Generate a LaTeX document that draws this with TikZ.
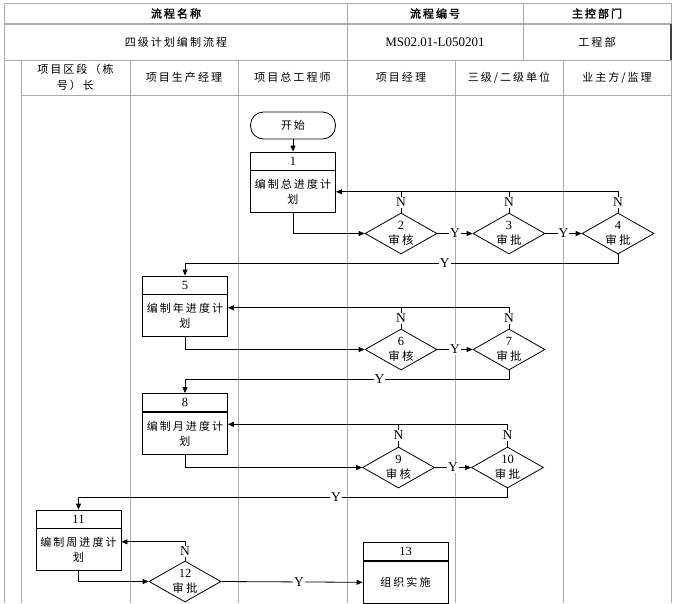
\documentclass[tikz,border=0pt]{standalone}
\usepackage{fontspec}
\setmainfont{Liberation Serif}
\newfontfamily\cjk[Scale=0.92, LetterSpace=18, AutoFakeBold=2]{Noto Sans CJK SC}
\usetikzlibrary{arrows.meta,shapes.geometric}

\begin{document}
\begin{tikzpicture}[x=1pt, y=-1pt, >={Triangle[length=6pt, width=5pt]},
	every node/.style={font=\fontsize{12.5}{15}\selectfont},
	zh/.style={font=\fontsize{12}{15}\selectfont\cjk},
	grid/.style={draw=black!33, line width=0.8pt},
	link/.style={line width=0.8pt},
	flow/.style={link, ->},
	numbox/.style={draw, line width=0.8pt, minimum width=85pt, minimum height=18pt, inner sep=0pt},
	bodybox/.style={zh, draw, line width=0.8pt, minimum width=85pt, minimum height=42pt, inner sep=0pt, align=center, anchor=north},
	startbox/.style={zh, draw, line width=0.8pt, rounded corners=13pt, minimum width=85pt, minimum height=27pt},
	check/.style={diamond, aspect=1.8, draw, line width=0.8pt, minimum width=72pt, minimum height=41pt, inner sep=0pt, align=center},
	lbl/.style={fill=white, inner sep=1pt, font=\fontsize{13.5}{15}\selectfont}]
	\useasboundingbox (0,0) rectangle (675,603);
	\draw[grid] (4,603) -- (4,3) -- (671,3) -- (671,603);
	\draw[grid, line width=1.8pt] (4,24) -- (671,24);
	\draw[grid] (4,60) -- (671,60) (21,95) -- (671,95) (347,3) -- (347,60) (523,3) -- (523,60);
	\foreach \x in {21,130,238,347,455,563} \draw[grid] (\x,60) -- (\x,603);
	\draw[black!75, line width=1.2pt] (671,24) -- (671,60);
	\foreach \x/\t [count=\i] in {176/流程名称, 435/流程编号, 597/主控部门} \node[zh] (head\i) at (\x,13.5) {\bfseries \t};
	\node[zh] (title) at (176,42) {四级计划编制流程};
	\node[font=\fontsize{13}{15}\selectfont] (code) at (435,42) {MS02.01-L050201};
	\node[zh] (dept) at (597,42) {工程部};
	\foreach \x/\t [count=\i] in {75.5/{项目区段（栋\\[1pt]号）长}, 184/项目生产经理, 292.5/项目总工程师, 401/项目经理, 509/{三级/二级单位}, 617/{业主方/监理}} \node[zh, align=center] (lane\i) at (\x,77.5) {\t};

	\node[startbox] (start) at (293,125.5) {开始};
	\foreach \n/\x/\y/\t in {1/293/161/{编制总进度计\\划}, 5/185/285/{编制年进度计\\划}, 8/185/402.5/{编制月进度计\\划}, 11/78.5/519/{编制周进度计\\划}, 13/405.5/551.5/组织实施} {\node[numbox] (n\n) at (\x,\y) {\n}; \node[bodybox] (b\n) at (n\n.south) {\t};}
	\foreach \n/\x/\y/\t in {2/401/233.5/审核, 3/509/233.5/审批, 4/618/233.5/审批, 6/401/349.5/审核, 7/509/349.5/审批, 9/398.5/467.5/审核, 10/507.5/467.5/审批, 12/185/581.5/审批} \node[check] (d\n) at (\x,\y) {\n\\\cjk \t};
	\coordinate (fb1) at (b1.east);
	\coordinate (fb5) at ([yshift=8pt]b5.east);
	\coordinate (fb8) at ([yshift=9pt]b8.east);
	\coordinate (fb11) at ([yshift=8pt]b11.east);

	\draw[flow] (start) -- (n1);
	\draw[flow] (b1.south) |- (d2.west);
	\draw[flow] (d2.east) -- node[lbl]{Y} (d3.west);
	\draw[flow] (d3.east) -- node[lbl]{Y} (d4.west);
	\draw[flow] (d4.north) |- node[lbl, pos=0.25]{N} (fb1);
	\foreach \d in {d2,d3} \draw[link] (\d.north) -- node[lbl]{N} (\d.north |- fb1);
	\draw[flow] (d4.south) -- ++(0,9) -| node[lbl, pos=0.2]{Y} (n5.north);

	\draw[flow] (b5.south) |- (d6.west);
	\draw[flow] (d6.east) -- node[lbl]{Y} (d7.west);
	\draw[flow] (d7.north) |- node[lbl, pos=0.25]{N} (fb5);
	\draw[link] (d6.north) -- node[lbl]{N} (d6.north |- fb5);
	\draw[flow] (d7.south) -- ++(0,9) -| node[lbl, pos=0.2]{Y} (n8.north);

	\draw[flow] (b8.south) |- (d9.west);
	\draw[flow] (d9.east) -- node[lbl]{Y} (d10.west);
	\draw[flow] (d10.north) |- node[lbl, pos=0.25]{N} (fb8);
	\draw[link] (d9.north) -- node[lbl]{N} (d9.north |- fb8);
	\draw[flow] (d10.south) -- ++(0,9) -| node[lbl, pos=0.2]{Y} (n11.north);

	\draw[flow] (b11.south) |- (d12.west);
	\draw[flow] (d12.north) |- node[lbl, pos=0.25]{N} (fb11);
	\draw[flow] (d12.east) -- node[lbl, pos=0.55]{Y} (b13.west);
\end{tikzpicture}
\end{document}
